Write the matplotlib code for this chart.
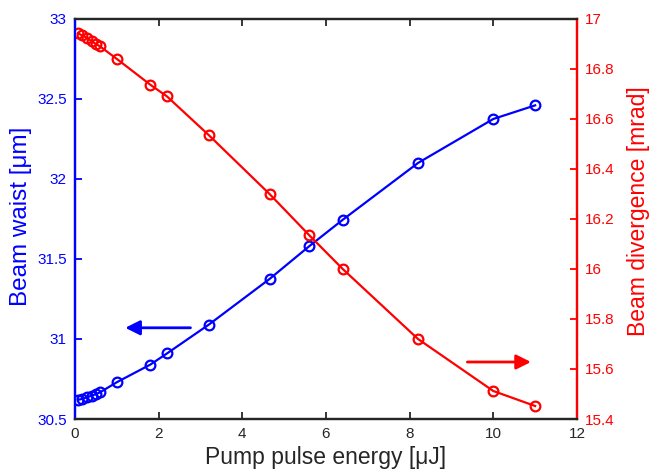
import matplotlib.pyplot as plt

plt.rcParams['font.family'] = ['Liberation Sans', 'DejaVu Sans']

# pump pulse energy [uJ]
energy = [0.07, 0.16, 0.28, 0.40, 0.50, 0.60, 1.0, 1.8, 2.2, 3.2, 4.65, 5.6, 6.4, 8.2, 10.0, 11.0]
# beam waist [um]
waist = [30.62, 30.625, 30.635, 30.646, 30.656, 30.667, 30.73, 30.84, 30.91, 31.09,
         31.375, 31.58, 31.745, 32.10, 32.375, 32.46]
# beam divergence [mrad]
divergence = [16.943, 16.935, 16.925, 16.91, 16.90, 16.89, 16.84, 16.737, 16.69, 16.535,
              16.30, 16.135, 16.0, 15.72, 15.512, 15.452]

xticks = [0, 2, 4, 6, 8, 10, 12]
lticks = [30.5, 31, 31.5, 32, 32.5, 33]
rticks = [15.4, 15.6, 15.8, 16, 16.2, 16.4, 16.6, 16.8, 17]

blue = '#0000ff'
red = '#ff0000'
dark = '#262626'

fig = plt.figure(figsize=(6.49, 4.69), dpi=100)
ax = fig.add_axes([0.1156, 0.1066, 0.7734, 0.853])
ax2 = ax.twinx()

ax.plot(energy, waist, '-o', color=blue, lw=1.6, ms=7, mfc='none', mew=1.6)
ax2.plot(energy, divergence, '-o', color=red, lw=1.6, ms=7, mfc='none', mew=1.6)

ax.set_xlim(0, 12)
ax.set_ylim(30.5, 33)
ax2.set_ylim(15.4, 17)
ax.set_xticks(xticks)
ax.set_xticklabels([str(t) for t in xticks])
ax.set_yticks(lticks)
ax.set_yticklabels(['30.5', '31', '31.5', '32', '32.5', '33'])
ax2.set_yticks(rticks)
ax2.set_yticklabels(['15.4', '15.6', '15.8', '16', '16.2', '16.4', '16.6', '16.8', '17'])

ax.tick_params(axis='x', direction='in', colors=dark, labelsize=11, length=5, width=1.3,
               top=True, pad=6)
ax.tick_params(axis='y', direction='in', colors=blue, labelsize=11, length=5, width=1.3, pad=6)
ax2.tick_params(axis='y', direction='in', colors=red, labelsize=11, length=5, width=1.3, pad=6)

for a in (ax, ax2):
    a.spines['top'].set_color(dark)
    a.spines['bottom'].set_color(dark)
    for s in a.spines.values():
        s.set_linewidth(1.6)
ax.spines['left'].set_color(blue)
ax2.spines['left'].set_color(blue)
ax.spines['right'].set_color(red)
ax2.spines['right'].set_color(red)

ax.set_xlabel('Pump pulse energy [μJ]', fontsize=16.5, color=dark, labelpad=3)
ax.set_ylabel('Beam waist [μm]', fontsize=17.5, color=blue, labelpad=2)
ax2.set_ylabel('Beam divergence [mrad]', fontsize=16.5, color=red, labelpad=7)
ax.yaxis.set_label_coords(-0.085, 0.507)
ax2.yaxis.set_label_coords(1.1, 0.52)

# direction arrows pointing to each axis
ax.annotate('', xy=(1.2, 31.07), xytext=(2.76, 31.07),
            arrowprops=dict(arrowstyle='-|>', color=blue, lw=2, mutation_scale=22,
                            shrinkA=0, shrinkB=0))
ax2.annotate('', xy=(10.9, 15.628), xytext=(9.38, 15.628),
             arrowprops=dict(arrowstyle='-|>', color=red, lw=2, mutation_scale=22,
                             shrinkA=0, shrinkB=0))

plt.savefig('out.png', dpi=100)
